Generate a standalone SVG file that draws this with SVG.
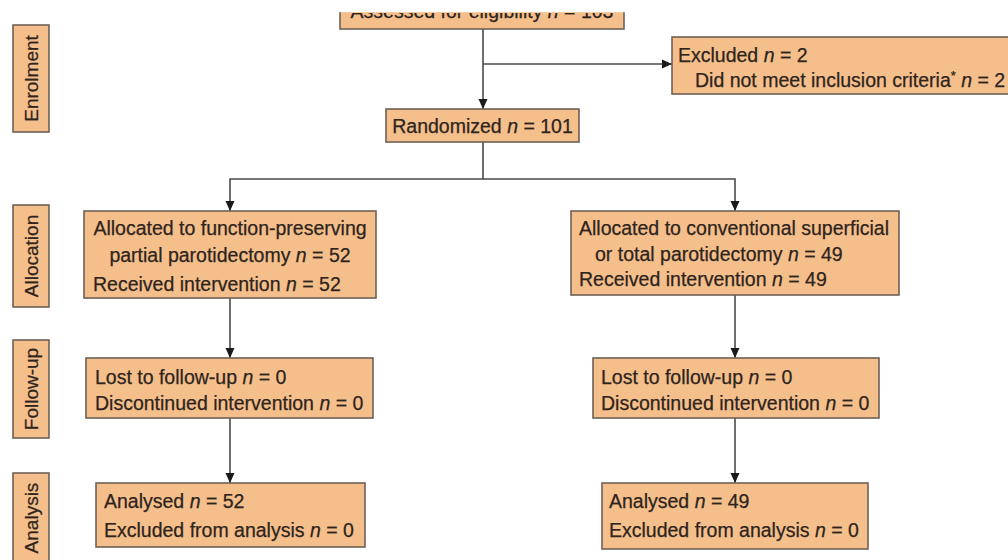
<svg xmlns="http://www.w3.org/2000/svg" width="1008" height="560" viewBox="0 0 1008 560">
<style>
.box{fill:#f5bf8c;stroke:#6e6156;stroke-width:1.6}
.t{font-family:"Liberation Sans",Arial,sans-serif;font-size:19.5px;fill:#2e241c;stroke:#2e241c;stroke-width:0.25}
.lab{font-family:"Liberation Sans",Arial,sans-serif;font-size:19px;fill:#2e241c;stroke:#2e241c;stroke-width:0.25}
.c{fill:none;stroke:#4a4a4a;stroke-width:1.6}
</style>
<defs>
<marker id="ah" viewBox="0 0 10 10" refX="10" refY="5" markerWidth="10" markerHeight="10" orient="auto" markerUnits="userSpaceOnUse">
<path d="M0,0.5 L10,5 L0,9.5 z" fill="#1a1a1a"/>
</marker>
<clipPath id="topclip"><rect x="340" y="13" width="284" height="16"/></clipPath>
</defs>
<rect width="1008" height="560" fill="#ffffff"/>

<g id="connectors">
<path class="c" d="M483,29 V109" marker-end="url(#ah)"/>
<path class="c" d="M483,64 H672" marker-end="url(#ah)"/>
<path class="c" d="M483,142 V179 H230 V211" marker-end="url(#ah)"/>
<path class="c" d="M483,179 H735 V211" marker-end="url(#ah)"/>
<path class="c" d="M230,298 V358" marker-end="url(#ah)"/>
<path class="c" d="M230,418 V483" marker-end="url(#ah)"/>
<path class="c" d="M735,295 V358" marker-end="url(#ah)"/>
<path class="c" d="M735,418 V483" marker-end="url(#ah)"/>
</g>

<g id="stage-enrolment">
<rect class="box" x="13" y="25" width="36" height="107"/>
<text class="lab" transform="translate(37.5,78.5) rotate(-90)" text-anchor="middle">Enrolment</text>
</g>
<g id="stage-allocation">
<rect class="box" x="13" y="205" width="36" height="102"/>
<text class="lab" transform="translate(37.5,256) rotate(-90)" text-anchor="middle">Allocation</text>
</g>
<g id="stage-followup">
<rect class="box" x="13" y="340" width="36" height="98"/>
<text class="lab" transform="translate(37.5,389) rotate(-90)" text-anchor="middle">Follow-up</text>
</g>
<g id="stage-analysis">
<rect class="box" x="13" y="473" width="36" height="100"/>
<text class="lab" transform="translate(37.5,518) rotate(-90)" text-anchor="middle">Analysis</text>
</g>

<g id="assessed">
<rect class="box" x="340" y="5" width="284" height="24"/>
<rect x="330" y="0" width="310" height="12.2" fill="#ffffff"/>
<text class="t" x="482" y="17.5" text-anchor="middle" clip-path="url(#topclip)">Assessed for eligibility <tspan font-style="italic">n</tspan> = 103</text>
</g>

<g id="excluded">
<rect class="box" x="672" y="37" width="350" height="57"/>
<text class="t" x="678" y="62">Excluded <tspan font-style="italic">n</tspan> = 2</text>
<text class="t" x="695" y="87">Did not meet inclusion criteria<tspan font-size="13" dy="-7">*</tspan><tspan dy="7"> </tspan><tspan font-style="italic">n</tspan> = 2</text>
</g>

<g id="randomized">
<rect class="box" x="386" y="109" width="193" height="33"/>
<text class="t" x="482.5" y="132.5" text-anchor="middle">Randomized <tspan font-style="italic">n</tspan> = 101</text>
</g>

<g id="alloc-left">
<rect class="box" x="84" y="211" width="292" height="87"/>
<text class="t" x="230" y="235" text-anchor="middle">Allocated to function-preserving</text>
<text class="t" x="230" y="262" text-anchor="middle">partial parotidectomy <tspan font-style="italic">n</tspan> = 52</text>
<text class="t" x="93" y="291">Received intervention <tspan font-style="italic">n</tspan> = 52</text>
</g>

<g id="alloc-right">
<rect class="box" x="571" y="211" width="328" height="84"/>
<text class="t" x="579" y="235">Allocated to conventional superficial</text>
<text class="t" x="595" y="261">or total parotidectomy <tspan font-style="italic">n</tspan> = 49</text>
<text class="t" x="579" y="286">Received intervention <tspan font-style="italic">n</tspan> = 49</text>
</g>

<g id="follow-left">
<rect class="box" x="86" y="358" width="287" height="60"/>
<text class="t" x="95" y="384">Lost to follow-up <tspan font-style="italic">n</tspan> = 0</text>
<text class="t" x="95" y="410">Discontinued intervention <tspan font-style="italic">n</tspan> = 0</text>
</g>

<g id="follow-right">
<rect class="box" x="593" y="358" width="286" height="60"/>
<text class="t" x="601" y="384">Lost to follow-up <tspan font-style="italic">n</tspan> = 0</text>
<text class="t" x="601" y="410">Discontinued intervention <tspan font-style="italic">n</tspan> = 0</text>
</g>

<g id="analysis-left">
<rect class="box" x="96" y="483" width="269" height="64"/>
<text class="t" x="104" y="508">Analysed <tspan font-style="italic">n</tspan> = 52</text>
<text class="t" x="104" y="537">Excluded from analysis <tspan font-style="italic">n</tspan> = 0</text>
</g>

<g id="analysis-right">
<rect class="box" x="602" y="483" width="266" height="66"/>
<text class="t" x="609" y="508">Analysed <tspan font-style="italic">n</tspan> = 49</text>
<text class="t" x="609" y="537">Excluded from analysis <tspan font-style="italic">n</tspan> = 0</text>
</g>
</svg>
